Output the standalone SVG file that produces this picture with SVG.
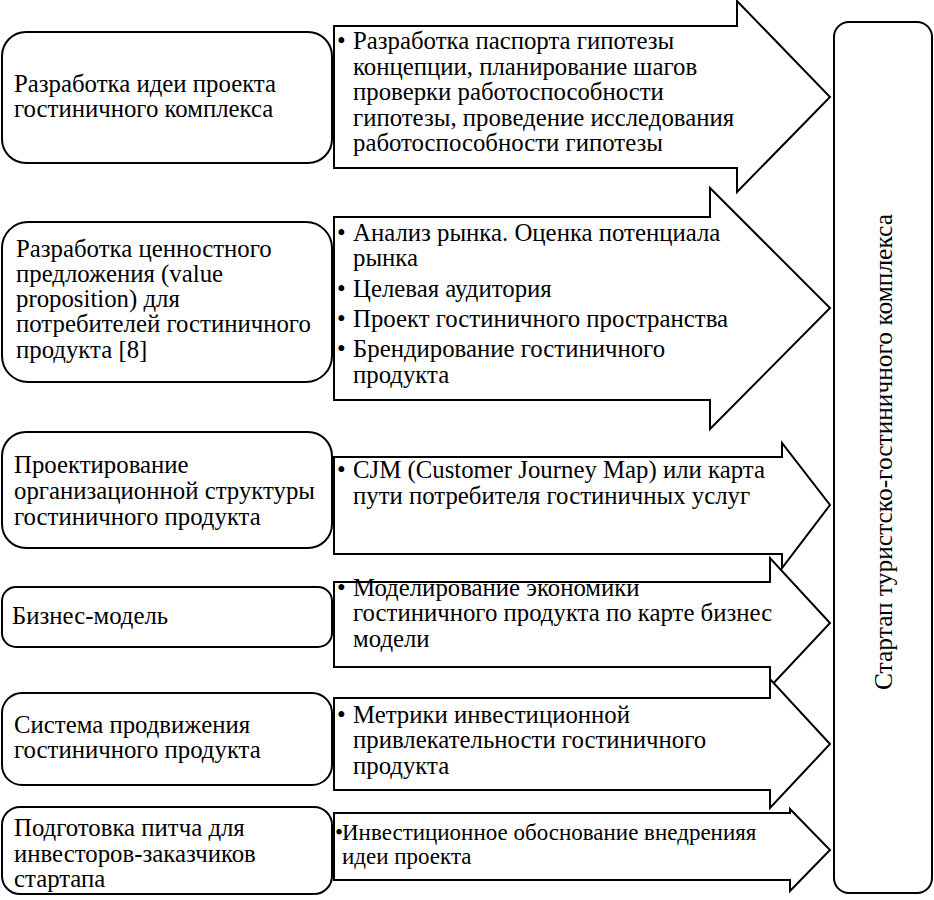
<svg xmlns="http://www.w3.org/2000/svg" width="934" height="900" viewBox="0 0 934 900">
<style>
.box{fill:#fff;stroke:#000;stroke-width:2}
.arr{fill:#fff;stroke:#000;stroke-width:2;stroke-linejoin:miter}
.t{font-family:'Liberation Serif','DejaVu Serif',serif;font-size:24.8px;fill:#000}
.s{font-size:23px}
</style>
<rect width="934" height="900" fill="#fff"/>
<g id="connectors">
<path class="arr" d="M334,26 H737 V1 L830,97 L737,192 V168 H334 Z"/>
<path class="arr" d="M334,217 H710 V188 L830,308 L710,429 V400 H334 Z"/>
<path class="arr" d="M334,457 H782 V443 L830,505 L782,568 V554 H334 Z"/>
<path class="arr" d="M334,582 H770 V558 L830,623 L770,687 V667 H334 Z"/>
<path class="arr" d="M334,698 H770 V679 L830,744 L770,808 V790 H334 Z"/>
<path class="arr" d="M334,813 H790 V809 L830,850 L790,891 V880 H334 Z"/>
</g>
<g class="t">
<g id="a1text">
<text x="337" y="49">•</text>
<text x="353" y="49">Разработка паспорта гипотезы</text>
<text x="353" y="74.5">концепции, планирование шагов</text>
<text x="353" y="100">проверки работоспособности</text>
<text x="353" y="125.5">гипотезы, проведение исследования</text>
<text x="353" y="151">работоспособности гипотезы</text>
</g>
<g id="a2text">
<text x="337" y="241">•</text>
<text x="353" y="241">Анализ рынка. Оценка потенциала</text>
<text x="353" y="266">рынка</text>
<text x="337" y="297">•</text>
<text x="353" y="297">Целевая аудитория</text>
<text x="337" y="327">•</text>
<text x="353" y="327">Проект гостиничного пространства</text>
<text x="337" y="357">•</text>
<text x="353" y="357">Брендирование гостиничного</text>
<text x="353" y="383">продукта</text>
</g>
<g id="a3text">
<text x="337" y="478">•</text>
<text x="353" y="478">CJM (Customer Journey Map) или карта</text>
<text x="353" y="504">пути потребителя гостиничных услуг</text>
</g>
<g id="a4text">
<text x="337" y="596">•</text>
<text x="353" y="596">Моделирование экономики</text>
<text x="353" y="621">гостиничного продукта по карте бизнес</text>
<text x="353" y="647">модели</text>
</g>
<g id="a5text">
<text x="337" y="723">•</text>
<text x="353" y="723">Метрики инвестиционной</text>
<text x="353" y="748">привлекательности гостиничного</text>
<text x="353" y="774">продукта</text>
</g>
<g id="a6text" class="s">
<text x="335" y="840">•</text>
<text x="342" y="840">Инвестиционное обоснование внедренияя</text>
<text x="342" y="864">идеи проекта</text>
</g>
</g>
<g id="n1">
<rect class="box" x="2" y="32" width="330" height="131" rx="24"/>
<text class="t" x="14" y="92">Разработка идеи проекта</text>
<text class="t" x="14" y="117">гостиничного комплекса</text>
</g>
<g id="n2">
<rect class="box" x="2" y="222" width="330" height="160" rx="26"/>
<text class="t" x="16" y="257">Разработка ценностного</text>
<text class="t" x="16" y="282">предложения (value</text>
<text class="t" x="16" y="307">proposition) для</text>
<text class="t" x="16" y="332">потребителей гостиничного</text>
<text class="t" x="16" y="358">продукта [8]</text>
</g>
<g id="n3">
<rect class="box" x="2" y="432" width="330" height="116" rx="24"/>
<text class="t" x="14" y="473">Проектирование</text>
<text class="t" x="14" y="499">организационной структуры</text>
<text class="t" x="14" y="525">гостиничного продукта</text>
</g>
<g id="n4">
<rect class="box" x="2" y="587" width="330" height="60" rx="14"/>
<text class="t" x="12" y="624">Бизнес-модель</text>
</g>
<g id="n5">
<rect class="box" x="2" y="693" width="330" height="92" rx="20"/>
<text class="t" x="14" y="733">Система продвижения</text>
<text class="t" x="14" y="758">гостиничного продукта</text>
</g>
<g id="n6">
<rect class="box" x="2" y="807" width="330" height="87" rx="18"/>
<text class="t" x="14" y="836">Подготовка питча для</text>
<text class="t" x="14" y="862">инвесторов-заказчиков</text>
<text class="t" x="14" y="887">стартапа</text>
</g>
<g id="n7">
<rect class="box" x="834" y="22" width="98" height="871" rx="15"/>
<text class="t" transform="translate(892,452) rotate(-90)" text-anchor="middle" textLength="476" lengthAdjust="spacingAndGlyphs">Стартап туристско-гостиничного комплекса</text>
</g>
</svg>
